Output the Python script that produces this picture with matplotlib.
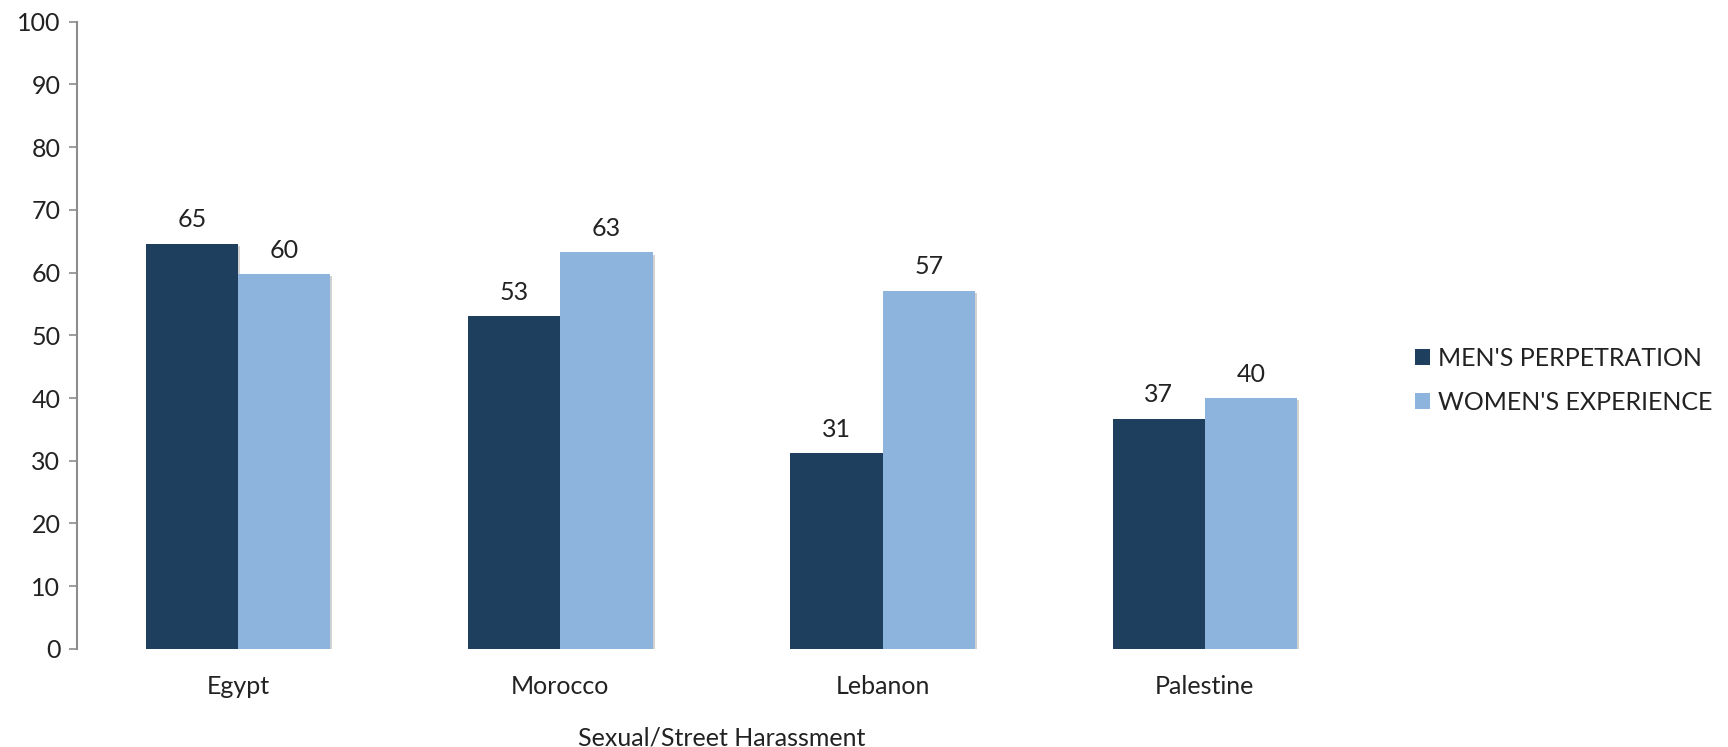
import numpy as np
import matplotlib
matplotlib.use("Agg")
import matplotlib.pyplot as plt
from matplotlib import patheffects
from matplotlib.patches import Patch

plt.rcParams['font.family'] = ['Lato', 'DejaVu Sans']

countries = ["Egypt", "Morocco", "Lebanon", "Palestine"]
men = [64.6, 53.0, 31.2, 36.7]
women = [59.7, 63.2, 57.1, 40.0]
series_names = ["MEN'S PERPETRATION", "WOMEN'S EXPERIENCE"]
yticks = list(range(0, 101, 10))
xlabel = "Sexual/Street Harassment"

dark = "#1F3F5E"
light = "#8DB4DD"
fs = 18

fig = plt.figure(figsize=(17.28, 7.47), dpi=100)
ax = fig.add_axes([0.0446, 0.1312, 0.7459, 0.84])

x = np.arange(len(countries))
w = 0.286
shadow = [patheffects.SimplePatchShadow(offset=(1.5, -1.5), shadow_rgbFace="gray", alpha=0.35),
          patheffects.Normal()]
b1 = ax.bar(x - w / 2, men, w, color=dark, zorder=3)
b2 = ax.bar(x + w / 2, women, w, color=light, zorder=3)
for bars in (b1, b2):
    for p in bars:
        p.set_path_effects(shadow)
    ax.bar_label(bars, labels=["%.0f" % v for v in bars.datavalues], padding=9,
                 fontsize=fs, color="#222222")

ax.set_xlim(-0.5, len(countries) - 0.5)
ax.set_ylim(0, 100)
ax.set_yticks(yticks)
ax.set_xticks(x)
ax.set_xticklabels(countries, fontsize=fs, color="#222222")
ax.tick_params(axis="x", length=0, pad=19)
ax.tick_params(axis="y", length=6, width=1.2, color="#8c8c8c", labelsize=fs,
               labelcolor="#222222", pad=6)
ax.set_xlabel(xlabel, fontsize=fs, color="#222222", labelpad=20)

for s in ("top", "right", "bottom"):
    ax.spines[s].set_visible(False)
ax.spines["left"].set_color("#8c8c8c")
ax.spines["left"].set_linewidth(1.5)

handles = [Patch(facecolor=dark), Patch(facecolor=light)]
fig.legend(handles, series_names, loc="center left", bbox_to_anchor=(0.806, 0.491),
           frameon=False, fontsize=fs, handlelength=0.6, handleheight=0.6,
           handletextpad=0.3, labelspacing=0.85, labelcolor="#222222")

fig.savefig("out.png", dpi=100)
